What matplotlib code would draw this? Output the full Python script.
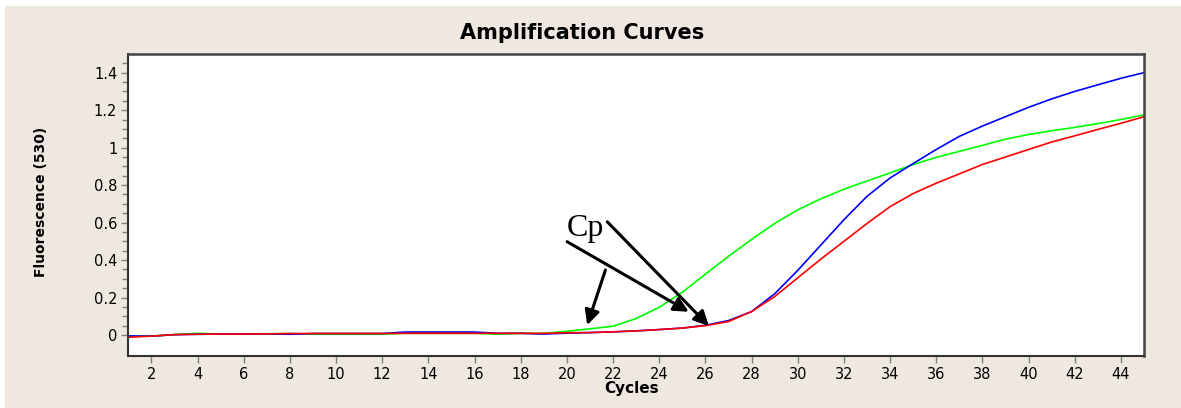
import numpy as np
import matplotlib.pyplot as plt
from matplotlib.patches import Rectangle
from matplotlib.ticker import MultipleLocator, FixedLocator, FormatStrFormatter

# cycles and fluorescence readings (530 channel)
cycles = np.arange(1, 46)

green = [-0.005, -0.006, 0.002, 0.009, 0.005, 0.005, 0.006, 0.008, 0.004, 0.004,
         0.004, 0.004, 0.009, 0.009, 0.009, 0.009, 0.004, 0.009, 0.009, 0.020,
         0.033, 0.047, 0.088, 0.148, 0.228, 0.325, 0.420, 0.510, 0.595, 0.668,
         0.727, 0.778, 0.822, 0.865, 0.910, 0.948, 0.980, 1.012, 1.045, 1.070,
         1.090, 1.108, 1.128, 1.150, 1.175]

blue = [-0.005, -0.006, 0.002, 0.004, 0.005, 0.005, 0.006, 0.004, 0.008, 0.008,
        0.008, 0.008, 0.016, 0.016, 0.016, 0.016, 0.009, 0.009, 0.005, 0.010,
        0.013, 0.017, 0.022, 0.029, 0.037, 0.052, 0.077, 0.125, 0.220, 0.345,
        0.480, 0.615, 0.740, 0.838, 0.915, 0.990, 1.060, 1.115, 1.165, 1.215,
        1.260, 1.300, 1.335, 1.370, 1.400]

red = [-0.012, -0.006, 0.002, 0.004, 0.005, 0.005, 0.006, 0.008, 0.008, 0.008,
       0.008, 0.008, 0.009, 0.009, 0.009, 0.009, 0.009, 0.009, 0.009, 0.012,
       0.013, 0.017, 0.022, 0.029, 0.037, 0.050, 0.072, 0.125, 0.205, 0.305,
       0.405, 0.500, 0.595, 0.685, 0.755, 0.810, 0.860, 0.910, 0.950, 0.990,
       1.030, 1.063, 1.097, 1.130, 1.165]

# Cp arrows: (start, tip) in data units
arrows = [((21.67, 0.347), (20.88, 0.053)),
          ((20.01, 0.498), (25.28, 0.124)),
          ((21.75, 0.604), (26.15, 0.048))]

W, H = 1181, 408
fig = plt.figure(figsize=(W / 100, H / 100), dpi=100, facecolor='white')

# beige panel behind everything
fig.patches.append(Rectangle((5 / W, 0), 1 - 5 / W, 1 - 6 / H,
                             transform=fig.transFigure, facecolor='#EEE8E0',
                             edgecolor='none', zorder=-10))

ax = fig.add_axes([128.3 / W, 1 - 356 / H, (1144 - 128.3) / W, (356 - 54.3) / H])
ax.set_zorder(1)
ax.set_facecolor('white')

ax.plot(cycles, green, color='#00FF00', lw=1.2)
ax.plot(cycles, blue, color='#0000FF', lw=1.2)
ax.plot(cycles, red, color='#FF0000', lw=1.2)

ax.set_xlim(1, 45)
ax.set_ylim(-0.112, 1.498)

ax.yaxis.set_major_locator(MultipleLocator(0.2))
ax.yaxis.set_minor_locator(FixedLocator(np.arange(0.05, 1.5, 0.05)))
ax.yaxis.set_major_formatter(FormatStrFormatter('%g'))
ax.set_xticks(np.arange(2, 45, 2))

ax.tick_params(axis='both', which='major', length=5, width=1, color='#808080',
               labelsize=10.5, labelcolor='black', direction='out', pad=3)
ax.tick_params(axis='y', which='minor', length=4, width=1, color='#808080')

for s in ['left', 'bottom']:
    ax.spines[s].set_color('#333333')
    ax.spines[s].set_linewidth(1.5)
for s in ['top', 'right']:
    ax.spines[s].set_color('#444444')
    ax.spines[s].set_linewidth(1.8)

# Cp annotation
ax.text(20.8, 0.571, 'Cp', family=['Liberation Serif', 'DejaVu Serif'],
        fontsize=23, ha='center', va='center', color='black')
for start, tip in arrows:
    ax.annotate('', xy=tip, xytext=start,
                arrowprops=dict(arrowstyle='-|>', color='black', lw=2.2,
                                mutation_scale=22, shrinkA=0, shrinkB=0))

fig.text(582 / W, 1 - 33 / H, 'Amplification Curves', ha='center', va='center',
         fontsize=15, fontweight='heavy', family='DejaVu Sans')
fig.text(632 / W, 1 - 389 / H, 'Cycles', ha='center', va='center',
         fontsize=11, fontweight='bold', family='DejaVu Sans')
fig.text(41 / W, 1 - 202 / H, 'Fluorescence (530)', ha='center', va='center',
         rotation=90, fontsize=10, fontweight='bold', family='DejaVu Sans')

fig.savefig('out.png', dpi=100, facecolor='white')
